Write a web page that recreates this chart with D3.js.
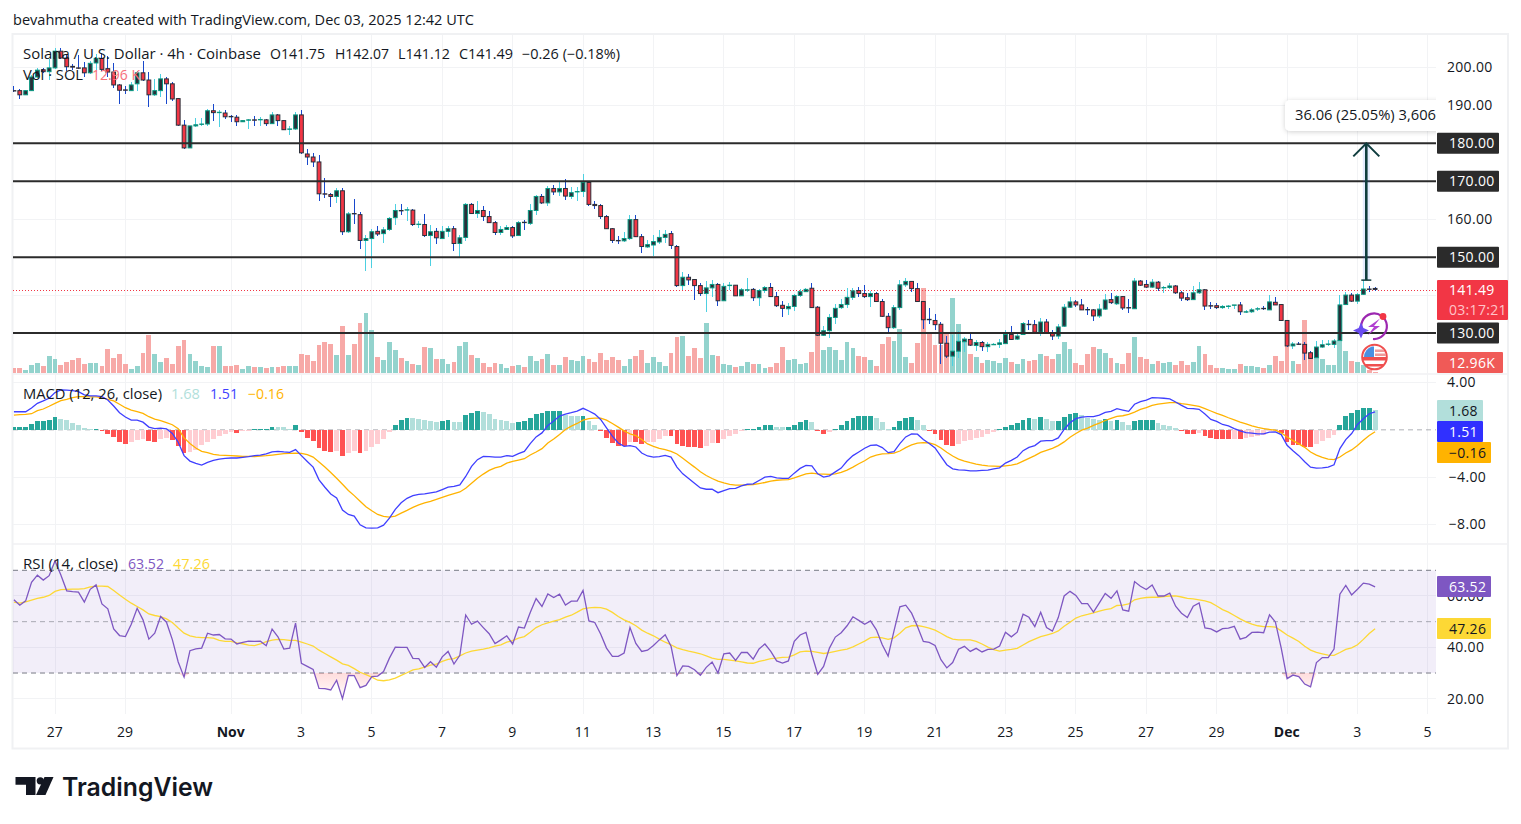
<!DOCTYPE html>
<html><head><meta charset="utf-8">
<script src="https://cdnjs.cloudflare.com/ajax/libs/d3/7.8.5/d3.min.js"></script>
<style>html,body{margin:0;padding:0;background:#fff;overflow:hidden}svg{display:block}text{font-family:"Open Sans",sans-serif}</style>
</head><body><svg id="c" width="1521" height="824"></svg>
<script>
const opens=[193.9,193.9,192.8,193.9,197.5,199.4,198.9,199.9,204.3,202.5,
200.3,199.9,199.9,198.6,201.2,202.4,199.7,198.8,195.4,194.1,
193.9,195.7,198.6,196.7,192.8,193.9,197.0,195.7,191.8,184.8,
178.8,184.6,185.0,185.1,188.6,188.1,188.0,187.1,186.9,185.7,
186.1,186.2,186.2,186.2,185.2,187.5,186.0,183.7,183.8,187.5,
177.2,176.4,175.1,166.7,166.5,166.0,167.5,156.7,161.5,161.2,
154.4,154.9,156.8,156.2,157.3,160.4,162.3,162.4,162.4,158.6,
158.6,155.7,156.8,154.9,156.8,157.5,153.6,155.2,163.9,161.5,
162.3,160.7,159.1,
156.5,157.3,157.8,155.7,159.2,158.9,162.3,166.0,164.3,168.1,
167.2,168.1,166.0,167.2,167.3,169.7,163.9,163.6,160.7,157.5,
154.4,154.3,154.9,159.9,155.4,152.7,153.2,154.0,155.2,156.2,
152.8,142.5,144.7,144.1,142.5,140.4,141.9,142.8,138.5,142.5,
142.6,139.8,141.3,141.5,139.3,141.2,142.0,139.6,137.3,136.4,
137.0,139.9,140.9,141.8,136.8,129.4,130.6,134.1,136.7,137.5,
139.4,141.2,140.4,139.6,140.4,138.3,134.4,131.4,136.7,142.7,
143.6,141.7,138.3,133.6,133.3,132.3,127.3,123.9,125.2,127.7,
128.3,126.7,127.5,126.4,126.9,127.0,
127.2,129.6,128.4,129.6,132.3,132.2,130.2,132.9,130.1,129.2,
131.8,136.8,138.2,137.4,136.2,136.1,134.5,136.3,138.8,137.7,
139.6,136.7,136.4,143.7,142.8,142.1,143.4,141.9,142.0,142.4,
140.6,139.3,138.8,140.6,141.4,137.2,137.2,136.7,137.0,137.3,
137.4,135.5,135.6,136.3,136.5,136.1,138.1,137.5,133.3,126.6,
127.1,127.0,124.8,123.5,126.3,127.0,127.0,128.0,137.5,140.0,
138.4,140.2,141.6,141.75];
const highs=[195.0,194.4,194.1,197.9,199.9,199.9,202.3,205.2,205.2,203.6,
201.0,203.4,201.4,201.8,203.6,203.8,203.1,201.3,195.7,195.0,
196.1,199.2,201.6,198.8,197.0,198.2,197.5,196.1,192.0,186.2,
184.7,186.8,186.8,189.1,190.3,188.9,188.7,187.5,187.4,186.2,
186.5,187.1,186.9,186.4,188.2,187.8,186.2,184.7,188.2,188.9,
178.6,177.5,176.8,170.9,166.8,168.3,168.1,161.9,165.2,161.9,
155.8,157.5,158.3,158.0,160.6,163.9,163.9,163.2,162.6,159.6,
161.3,158.4,157.6,158.3,158.2,158.2,155.9,164.4,164.3,164.7,
163.4,162.2,159.5,
158.2,158.4,158.2,159.5,159.8,163.9,166.3,166.6,168.7,169.0,
169.8,170.5,168.4,168.5,171.8,170.1,164.7,164.1,161.1,157.6,
155.5,156.6,161.1,161.1,156.1,154.5,155.8,157.1,157.1,156.8,
153.2,146.1,145.5,144.2,143.1,143.7,144.0,143.2,143.1,143.4,
142.6,141.8,144.5,141.8,141.5,142.4,143.1,140.8,138.4,137.8,
140.4,141.5,141.8,143.2,137.1,131.8,135.0,137.6,138.9,141.8,
141.8,142.2,142.6,141.2,140.7,138.9,135.2,137.5,144.1,144.5,
143.8,143.2,138.5,136.6,135.0,132.9,129.2,129.5,130.5,129.0,
129.9,128.2,127.8,127.7,127.3,128.4,
130.7,131.8,130.3,132.9,133.3,133.3,134.0,133.8,130.7,132.3,
137.7,139.6,138.8,139.0,136.9,136.4,137.7,140.4,140.5,139.9,
139.8,139.0,144.6,144.0,143.9,144.2,143.7,142.3,143.2,142.7,
141.0,140.5,142.4,143.4,141.5,138.1,137.9,137.3,137.3,137.5,
138.1,136.0,136.7,136.8,137.0,139.9,139.6,137.7,133.5,127.5,
127.6,127.6,125.3,127.9,128.2,128.2,128.5,140.0,140.8,140.5,
140.5,144.0,142.4,142.07];
const lows=[193.6,191.8,192.7,193.8,197.3,198.5,196.8,199.6,202.3,199.2,
199.4,199.7,197.5,198.3,198.8,199.2,197.5,194.7,190.3,193.1,
193.7,193.7,196.4,189.6,192.5,192.2,190.3,191.1,184.5,178.4,
178.7,184.3,184.7,184.5,185.8,184.2,186.4,185.6,184.7,185.5,
183.7,184.7,184.7,184.5,185.0,184.5,183.4,182.1,183.6,177.1,
174.2,173.8,164.7,165.6,163.2,164.3,155.9,156.4,158.7,152.2,
146.4,147.2,155.6,153.8,157.0,158.4,161.2,159.5,158.2,157.8,
155.3,147.7,153.5,154.8,155.2,151.6,149.7,154.3,161.3,160.3,
159.5,159.0,155.9,
155.8,157.1,155.1,155.5,157.1,158.4,161.1,163.9,163.4,166.3,
166.1,165.0,165.4,164.7,165.9,163.4,162.6,160.0,157.3,153.7,
153.4,154.0,154.6,155.2,151.1,152.4,150.3,153.4,153.8,152.1,
142.1,141.3,142.6,138.7,139.8,135.6,139.6,137.2,138.4,141.3,
139.7,139.7,140.9,138.4,137.1,140.6,139.5,136.9,134.3,134.7,
135.9,139.6,140.9,136.6,129.2,129.2,128.8,132.4,136.4,136.7,
138.7,139.6,139.2,136.8,138.2,134.3,130.0,131.1,136.1,142.2,
140.9,138.2,131.1,132.5,130.8,121.8,123.3,121.4,123.4,124.9,
126.6,125.3,125.3,125.0,126.8,126.1,
127.0,128.1,128.2,129.4,130.7,130.0,129.1,129.8,128.1,128.3,
131.6,136.7,136.8,136.0,134.8,133.2,134.0,136.1,137.7,137.5,
136.1,135.3,136.2,142.4,141.9,141.9,141.2,140.6,141.5,140.4,
138.4,138.5,138.6,140.4,136.1,136.4,136.4,136.4,136.3,136.3,
134.7,135.3,135.4,135.7,136.0,136.0,137.3,133.2,126.3,125.7,
126.8,122.8,123.2,123.3,126.0,126.5,126.1,127.9,137.3,138.2,
137.7,140.0,140.9,141.12];
const closes=[193.8,192.8,193.9,197.5,199.3,198.9,199.9,204.3,202.5,200.2,
200.1,199.8,198.6,201.1,202.4,199.5,198.8,195.4,194.0,194.0,
195.4,198.6,196.7,192.8,193.9,197.0,195.7,191.7,184.8,178.8,
184.6,184.9,185.1,188.6,188.1,188.2,187.0,187.0,185.7,186.0,
186.2,186.1,186.3,185.2,187.5,186.0,183.6,183.8,187.5,177.5,
176.4,175.1,166.7,166.6,166.0,167.5,156.7,161.4,161.4,154.4,
154.9,156.7,156.1,157.2,160.2,162.3,162.2,162.5,158.6,158.7,
155.7,156.7,155.1,156.8,157.5,153.6,155.1,163.9,161.5,162.3,
160.7,159.1,156.5,
157.3,157.8,155.6,159.1,159.1,162.3,166.0,164.3,168.1,167.2,
168.1,166.1,167.0,167.3,169.7,163.9,163.6,160.7,157.5,154.4,
154.3,154.9,159.9,155.4,152.8,153.3,154.1,155.2,156.0,153.1,
142.5,144.7,144.0,142.5,140.4,141.9,142.8,138.5,142.3,142.6,
139.8,141.4,141.4,139.3,141.2,142.0,139.6,137.2,136.5,137.0,
139.9,140.9,141.5,136.7,129.4,130.6,134.1,136.5,137.5,139.4,
141.1,140.4,139.6,140.4,138.3,134.4,131.4,136.7,142.7,143.6,
141.7,138.3,133.5,133.5,132.2,127.3,123.9,125.2,127.8,128.4,
126.8,127.5,126.4,127.0,127.0,127.4,
129.6,128.3,129.2,132.5,132.2,130.2,132.9,130.0,129.2,131.6,
136.8,138.2,137.4,136.1,136.1,134.5,136.3,138.7,138.0,139.6,
136.6,136.6,143.7,142.6,142.1,143.4,141.8,142.0,142.4,140.6,
139.2,138.8,140.6,141.4,137.1,137.1,136.7,137.0,137.1,137.4,
135.6,135.6,136.1,136.4,136.4,138.2,137.4,133.3,126.6,127.1,
127.0,124.7,123.3,126.3,126.9,127.1,127.9,137.4,140.0,138.4,
140.1,141.6,141.5,141.49];
const volumes=[44,44,26,70,87,61,148,122,70,96,113,131,78,87,87,61,209,131,165,78,35,61,174,331,165,96,131,78,235,287,165,104,61,52,235,235,61,61,70,35,61,52,52,44,52,52,61,61,61,165,157,104,244,270,252,157,409,157,252,435,522,374,139,113,270,200,131,104,78,70,226,218,122,122,78,96,235,270,157,131,87,52,87,
78,44,61,70,52,148,104,122,165,70,70,139,113,104,148,122,96,174,113,139,113,61,122,148,200,87,139,96,61,174,313,322,148,218,131,435,157,148,78,70,52,61,96,78,78,44,52,87,226,113,122,78,87,183,322,200,226,200,113,270,218,148,139,113,61,252,313,278,383,139,87,261,740,339,244,244,345,653,426,296,165,139,87,113,104,87,
128,99,78,119,104,110,165,148,122,165,270,209,87,70,165,226,209,174,131,87,78,174,313,139,122,78,104,87,96,70,104,70,96,235,165,70,44,44,35,35,78,61,61,52,44,70,148,104,235,104,78,461,139,165,122,70,70,287,191,104,96,70,26,12.96];
const macdLine=[1.53,1.53,1.53,1.84,2.24,2.44,2.67,3.15,3.38,3.35,3.32,3.23,2.95,2.87,2.87,2.81,2.52,2.01,1.45,1.08,.82,.82,.65,.23,.11,.14,.09,-.31,-1.05,-2.18,-2.64,-2.84,-2.98,-2.75,-2.58,-2.47,-2.41,-2.38,-2.38,-2.33,-2.27,-2.18,-2.13,-2.04,-1.87,-1.82,-1.87,-1.90,-1.67,-2.18,-2.67,-3.15,-4.23,-4.85,-5.42,-5.76,-6.78,-7.15,-7.29,-8.03,-8.28,-8.31,-8.28,-8.06,-7.46,-6.72,-6.16,-5.79,-5.56,-5.45,-5.42,-5.33,-5.25,-5.05,-4.85,-4.77,-4.65,-3.94,-3.09,-2.52,-2.24,-2.27,-2.30,
-2.30,-2.18,-2.24,-2.01,-1.82,-1.16,-.60,-.26,.37,.74,1.16,1.33,1.45,1.59,1.82,1.59,1.33,.88,.17,-.54,-1.11,-1.39,-1.33,-1.45,-1.96,-2.21,-2.30,-2.27,-2.16,-2.30,-3.15,-3.72,-4.11,-4.51,-4.91,-5.02,-5.02,-5.31,-5.13,-4.96,-4.94,-4.74,-4.60,-4.57,-4.28,-4.00,-3.94,-4.06,-4.11,-4.11,-3.66,-3.26,-3.01,-3.04,-3.72,-4.00,-3.89,-3.55,-3.23,-2.64,-2.18,-1.87,-1.56,-1.31,-1.28,-1.50,-1.93,-1.84,-1.16,-.60,-.34,-.37,-.82,-1.16,-1.53,-2.24,-2.95,-3.29,-3.38,-3.40,-3.46,-3.46,-3.43,-3.40,-3.29,-3.21,
-2.81,-2.58,-2.30,-1.76,-1.48,-1.33,-.96,-.91,-.91,-.68,.03,.60,.94,1.08,1.11,1.11,1.25,1.48,1.56,1.79,1.67,1.56,2.16,2.38,2.52,2.72,2.70,2.67,2.61,2.35,2.07,1.82,1.79,1.73,1.33,.88,.71,.45,.34,.11,-.09,-.23,-.28,-.34,-.34,-.20,-.17,-.40,-1.31,-1.76,-2.18,-2.70,-3.15,-3.23,-3.21,-3.15,-2.95,-1.59,-.82,-.31,.45,.94,1.36,1.51];
const signalLine=[1.25,1.28,1.31,1.36,1.62,1.76,1.99,2.24,2.47,2.58,2.72,2.81,2.81,2.78,2.78,2.72,2.58,2.44,2.16,1.87,1.67,1.53,1.39,1.11,.91,.77,.60,.43,.09,-.68,-1.16,-1.53,-1.82,-1.93,-2.07,-2.13,-2.16,-2.18,-2.21,-2.24,-2.24,-2.27,-2.21,-2.18,-2.13,-2.07,-2.01,-1.99,-1.96,-1.99,-2.10,-2.30,-2.72,-3.15,-3.60,-4.09,-4.60,-5.13,-5.56,-6.04,-6.50,-6.84,-7.15,-7.32,-7.38,-7.29,-7.04,-6.81,-6.55,-6.35,-6.18,-6.04,-5.87,-5.70,-5.53,-5.39,-5.25,-4.94,-4.51,-4.09,-3.74,-3.43,-3.21,
-3.09,-2.81,-2.67,-2.55,-2.44,-2.13,-1.87,-1.59,-1.11,-.77,-.40,.03,.31,.54,.82,.94,.99,.99,.82,.54,.23,-.09,-.34,-.48,-.82,-1.19,-1.39,-1.56,-1.67,-1.82,-2.04,-2.41,-2.78,-3.15,-3.55,-3.86,-4.11,-4.34,-4.48,-4.60,-4.68,-4.68,-4.65,-4.62,-4.54,-4.45,-4.34,-4.26,-4.23,-4.20,-4.06,-3.89,-3.72,-3.66,-3.72,-3.74,-3.77,-3.72,-3.60,-3.40,-3.15,-2.87,-2.61,-2.30,-2.13,-2.04,-2.01,-1.96,-1.79,-1.50,-1.28,-1.13,-1.08,-1.11,-1.25,-1.53,-1.90,-2.21,-2.47,-2.64,-2.78,-2.89,-2.98,-3.04,-3.06,-3.09,
-3.04,-2.98,-2.87,-2.64,-2.41,-2.18,-1.90,-1.73,-1.56,-1.33,-1.02,-.62,-.31,-.03,.14,.37,.57,.79,.96,1.13,1.19,1.31,1.50,1.73,1.87,2.07,2.18,2.24,2.30,2.30,2.21,2.16,2.07,1.99,1.79,1.59,1.39,1.22,1.02,.85,.65,.51,.34,.20,.11,.03,-.03,-.26,-.60,-.91,-1.19,-1.48,-1.87,-2.13,-2.33,-2.47,-2.52,-2.30,-1.96,-1.70,-1.33,-.88,-.48,-.16];
const macdHist=[.28,.28,.28,.48,.71,.71,.79,1.05,.91,.79,.57,.43,.14,.11,.11,-.11,-.31,-.62,-1.02,-1.16,-1.02,-.85,-.79,-.96,-1.02,-.74,-.68,-.82,-1.33,-1.93,-1.84,-1.70,-1.28,-1.02,-.74,-.51,-.31,-.20,-.23,-.11,-.06,.09,.09,.09,.28,.26,.20,.09,.37,-.20,-.65,-.91,-1.50,-1.82,-1.90,-1.76,-2.18,-1.99,-1.79,-1.93,-1.82,-1.48,-1.16,-.79,-.20,.43,.85,1.02,.96,.94,.79,.74,.65,.74,.79,.65,.62,1.25,1.42,1.56,1.53,1.33,.91,
.85,.77,.57,.65,.71,.96,1.31,1.39,1.56,1.56,1.56,1.25,1.19,1.13,1.13,.74,.37,-.14,-.65,-1.08,-1.33,-1.33,-1.02,-1.02,-1.16,-1.02,-.99,-.77,-.48,-.48,-1.16,-1.33,-1.42,-1.42,-1.50,-1.33,-1.08,-1.08,-.74,-.48,-.37,-.11,.11,.11,.28,.45,.45,.28,.20,.20,.45,.62,.79,.62,-.06,-.31,-.20,.11,.37,.71,.96,1.13,1.13,1.13,.96,.62,.11,.20,.71,.96,1.05,.79,.37,-.06,-.31,-.82,-1.25,-1.33,-1.16,-.91,-.82,-.65,-.57,-.37,-.20,.06,
.26,.37,.57,.82,.96,.88,1.05,.88,.71,.71,1.05,1.31,1.39,1.22,.99,.91,.79,.88,.71,.79,.62,.37,.74,.79,.79,.79,.54,.43,.34,.17,-.11,-.37,-.37,-.28,-.54,-.71,-.79,-.79,-.79,-.74,-.79,-.71,-.62,-.54,-.45,-.14,-.09,-.23,-.99,-1.25,-1.25,-1.42,-1.48,-1.22,-.96,-.71,-.40,.45,1.13,1.39,1.65,1.82,1.82,1.68];
const rsiLine=[58.5,56.4,58.1,65.3,68.1,66.2,67.9,73.6,68.2,62.0,61.7,61.5,57.6,62.6,64.3,56.9,55.0,47.2,44.6,44.2,49.0,55.2,50.7,43.2,45.5,52.0,49.8,43.0,34.3,28.4,38.7,39.4,39.7,45.5,44.8,45.0,43.3,43.2,41.3,41.9,42.4,42.3,42.4,40.6,47.1,44.1,39.3,39.7,49.4,33.8,32.6,31.4,24.0,23.9,23.4,27.2,20.0,29.1,29.0,24.3,25.2,28.6,28.8,30.6,35.8,40.1,40.0,40.0,35.7,35.6,32.2,34.4,32.3,36.3,38.4,33.5,36.9,52.6,49.0,50.2,47.7,45.3,41.5,
42.9,44.5,41.3,47.9,47.5,53.6,59.0,55.9,60.8,59.4,60.7,56.5,58.0,58.0,62.2,50.3,49.7,45.2,39.7,36.5,36.5,37.8,47.7,41.5,38.4,38.9,40.7,42.9,44.9,40.4,29.0,32.8,32.6,31.3,29.1,32.2,34.3,30.0,37.5,37.8,34.9,38.0,38.0,35.4,39.4,41.3,38.4,34.7,33.9,34.7,42.3,44.8,45.8,37.1,29.5,32.6,39.7,44.0,45.7,48.4,51.9,50.5,49.0,50.3,46.8,41.0,36.6,46.4,55.8,56.4,53.3,48.1,42.3,41.9,40.7,35.2,32.0,34.1,39.3,40.4,38.4,39.6,38.2,39.2,39.3,40.5,
45.9,44.1,45.9,52.9,51.7,48.1,53.7,47.7,46.3,51.6,60.0,61.8,60.2,57.0,57.0,53.7,57.3,61.0,59.1,62.0,54.6,54.1,65.6,63.8,62.5,64.3,60.0,60.0,61.1,56.0,53.3,51.6,56.0,57.3,47.6,47.2,46.0,47.3,47.5,48.2,43.2,43.9,45.8,45.9,45.7,52.7,49.9,39.7,27.8,29.2,28.6,25.7,24.6,34.1,36.0,36.0,39.3,60.7,64.1,60.4,62.6,65.0,64.6,63.52];
const rsiAverage=[57.6,57.2,57.7,58.4,59.1,59.5,60.2,61.8,62.5,62.6,62.7,62.7,62.9,63.5,63.8,63.8,63.7,62.1,60.4,58.7,57.2,55.9,54.6,53.0,52.4,52.0,51.1,49.7,47.5,45.5,44.5,44.0,43.8,43.8,43.6,42.7,42.3,42.3,41.7,41.4,40.9,40.7,41.3,42.2,42.8,43.1,43.0,42.7,42.7,42.0,41.3,40.5,38.9,37.6,36.3,35.0,33.6,33.0,31.7,30.3,29.4,28.4,27.2,27.0,27.3,28.0,29.1,30.1,31.2,31.6,32.3,33.1,33.5,34.5,35.3,35.6,36.7,37.8,38.5,38.9,39.3,39.8,40.5,
41.0,42.0,42.6,43.6,44.2,45.9,47.7,48.8,49.5,50.2,50.8,51.8,52.5,53.7,55.0,55.4,55.6,55.5,54.9,53.6,52.0,50.7,49.7,48.4,46.7,45.5,44.5,43.2,42.0,41.0,39.8,39.1,38.5,38.0,37.5,36.7,35.8,35.3,35.3,35.0,34.7,34.3,33.9,33.8,34.5,35.0,35.6,35.8,36.1,36.2,37.1,38.2,38.5,38.4,38.0,37.6,37.9,38.4,38.9,39.3,40.2,41.3,42.4,43.8,44.0,43.7,43.1,43.7,45.5,47.6,48.4,48.5,48.1,47.5,46.7,45.5,44.2,43.2,42.9,42.9,42.9,42.3,41.3,40.1,39.1,38.5,
38.9,39.2,39.6,40.9,42.2,43.2,44.2,44.8,45.4,46.4,48.2,49.8,51.4,52.3,52.8,53.4,54.1,54.7,55.1,56.3,56.4,56.9,58.5,59.1,59.4,59.5,59.5,59.8,60.0,60.0,59.6,59.1,58.9,58.5,58.1,57.4,56.1,54.7,53.7,52.4,51.1,49.9,49.0,48.4,48.1,48.1,47.9,46.4,44.8,43.6,42.3,40.4,38.9,38.0,37.5,37.0,36.9,38.0,39.2,39.8,41.0,43.1,45.4,47.26];
const firstBar=-7;
const timeTickBars=[0,12,30,42,54,66,78,90,102,114,126,138,150,162,174,186,198,210,222,234];
const timeTickLabels=["27","29","Nov","3","5","7","9","11","13","15","17","19","21","23","25","27","29","Dec","3","5"];
const priceGrid=[200,190,180,170,160,150,140,130];
const priceAxisTicks=[200,190,160];
const levels=[180,170,150,130];
const macdTicks=[4,-4,-8];
const rsiTicks=[60,40,20];
const rsiBands=[70,50,30];
const lastPrice=141.49, arrowFrom=143.94, arrowTo=180;

const svg=d3.select("#c");
const L=13,R=1436,F='"Open Sans",sans-serif';
const x=d3.scaleLinear().domain([0,222]).range([55,1357.5]);
const yP=d3.scaleLinear().domain([130,200]).range([333,67.5]);
const yV=d3.scaleLinear().domain([0,870]).range([373,273]);
const yM=d3.scaleLinear().domain([-8,4]).range([524.5,382.5]);
const yR=d3.scaleLinear().domain([20,70]).range([698.7,570.3]);
const bars=d3.range(opens.length).map(i=>({i:i+firstBar,o:opens[i],h:highs[i],l:lows[i],c:closes[i],v:volumes[i],m:macdLine[i],s:signalLine[i],hist:macdHist[i],prev:i?macdHist[i-1]:0,r:rsiLine[i],a:rsiAverage[i]}));
const up=d=>d.c>=d.o;
const defs=svg.append("defs");
defs.append("clipPath").attr("id","cm").append("rect").attr("x",L).attr("y",34).attr("width",R-L).attr("height",339);
defs.append("clipPath").attr("id","cc").append("rect").attr("x",L).attr("y",375).attr("width",R-L).attr("height",168);
defs.append("clipPath").attr("id","cr").append("rect").attr("x",L).attr("y",545).attr("width",R-L).attr("height",169);
const g1=defs.append("linearGradient").attr("id","os").attr("gradientUnits","userSpaceOnUse").attr("x1",0).attr("x2",0).attr("y1",yR(30)).attr("y2",yR(20));
g1.append("stop").attr("offset",0).attr("stop-color","#ff5252").attr("stop-opacity",.2);g1.append("stop").attr("offset",1).attr("stop-color","#ff5252").attr("stop-opacity",0);
const g2=defs.append("linearGradient").attr("id","ob").attr("gradientUnits","userSpaceOnUse").attr("x1",0).attr("x2",0).attr("y1",yR(80)).attr("y2",yR(70));
g2.append("stop").attr("offset",0).attr("stop-color","#4caf50").attr("stop-opacity",0);g2.append("stop").attr("offset",1).attr("stop-color","#4caf50").attr("stop-opacity",.2);
const f=defs.append("filter").attr("id","sh").attr("x","-10%").attr("y","-30%").attr("width","120%").attr("height","170%");
f.append("feDropShadow").attr("dx",0).attr("dy",1).attr("stdDeviation",2.5).attr("flood-color","#000").attr("flood-opacity",.18);

function text(sel,px,py,s,o={}){const t=sel.append("text").attr("x",px).attr("y",py).attr("dominant-baseline","central").attr("font-size",o.size||14).attr("fill",o.fill||"#131722").attr("font-weight",o.weight||400).text(s);
 if(o.len)t.attr("textLength",o.len).attr("lengthAdjust","spacingAndGlyphs");if(o.anchor)t.attr("text-anchor",o.anchor);if(o.family)t.style("font-family",o.family);return t}

/* frame */
svg.append("rect").attr("x",12.5).attr("y",34).attr("width",1495.5).attr("height",714.5).attr("fill","none").attr("stroke","#f0f1f3").attr("stroke-width",2);
[374,544].forEach(v=>svg.append("line").attr("x1",L).attr("x2",1507).attr("y1",v).attr("y2",v).attr("stroke","#f0f1f3").attr("stroke-width",1.5));

/* grid */
const grid=svg.append("g").attr("stroke","#f2f3f5").attr("stroke-width",1).attr("shape-rendering","crispEdges");
grid.selectAll(".v").data(timeTickBars).join("line").attr("x1",d=>x(d)).attr("x2",d=>x(d)).attr("y1",35).attr("y2",714);
grid.selectAll(".p").data(priceGrid).join("line").attr("x1",L).attr("x2",R).attr("y1",d=>yP(d)).attr("y2",d=>yP(d));
grid.selectAll(".m").data(macdTicks).join("line").attr("x1",L).attr("x2",R).attr("y1",d=>yM(d)).attr("y2",d=>yM(d));
grid.selectAll(".r").data(rsiTicks).join("line").attr("x1",L).attr("x2",R).attr("y1",d=>yR(d)).attr("y2",d=>yR(d));

/* volume */
const main=svg.append("g").attr("clip-path","url(#cm)");
main.selectAll(".vol").data(bars).join("rect").attr("x",d=>x(d.i)-2.4).attr("width",4.8).attr("y",d=>yV(d.v)).attr("height",d=>373-yV(d.v)).attr("fill",d=>up(d)?"#93d3cd":"#f7a9a7").attr("shape-rendering","crispEdges");
/* last-price line */
main.append("line").attr("x1",L).attr("x2",R).attr("y1",yP(lastPrice)+1).attr("y2",yP(lastPrice)+1).attr("stroke","#f23645").attr("stroke-width",1).attr("stroke-dasharray","1 2").attr("shape-rendering","crispEdges");
/* candles */
main.selectAll(".wick").data(bars).join("line").attr("x1",d=>x(d.i)).attr("x2",d=>x(d.i)).attr("y1",d=>yP(d.h)).attr("y2",d=>yP(d.l)).attr("stroke",d=>up(d)?"#4dd0e1":"#1848cc").attr("stroke-width",1).attr("shape-rendering","crispEdges");
main.selectAll(".body").data(bars).join("rect").attr("x",d=>x(d.i)-1.9).attr("width",3.8).attr("y",d=>yP(Math.max(d.o,d.c))).attr("height",d=>Math.max(0.3,Math.abs(yP(d.o)-yP(d.c)))).attr("fill",d=>up(d)?"#2a2e39":"#f23645").attr("stroke",d=>up(d)?"#089981":"#2a2e39").attr("stroke-width",1);
/* level lines */
main.selectAll(".lvl").data(levels).join("line").attr("x1",L).attr("x2",R).attr("y1",d=>yP(d)).attr("y2",d=>yP(d)).attr("stroke","#2b2b2b").attr("stroke-width",2);
/* arrow */
const arrowX=x(223.5);
svg.append("rect").attr("x",arrowX-3.5).attr("y",yP(arrowTo)).attr("width",7).attr("height",yP(arrowFrom)-yP(arrowTo)).attr("fill","#2962ff").attr("opacity",.13);
const ag=svg.append("g").attr("stroke","#0f3d3e").attr("fill","none");
ag.append("line").attr("x1",arrowX).attr("x2",arrowX).attr("y1",yP(arrowFrom)).attr("y2",yP(arrowTo)).attr("stroke-width",2.6);
ag.append("line").attr("x1",arrowX-5).attr("x2",arrowX+5).attr("y1",yP(arrowFrom)).attr("y2",yP(arrowFrom)).attr("stroke-width",1.5);
ag.append("path").attr("d",d3.line()([[arrowX-13,yP(arrowTo)+13],[arrowX,yP(arrowTo)],[arrowX+13,yP(arrowTo)+13]])).attr("stroke-width",2);
/* tooltip */
defs.append("clipPath").attr("id","tc").append("rect").attr("x",1270).attr("y",90).attr("width",R-1270).attr("height",50);
svg.append("g").attr("clip-path","url(#tc)").append("rect").attr("x",1285).attr("y",100).attr("width",175).attr("height",31).attr("rx",5).attr("fill","#fff").attr("filter","url(#sh)");
text(svg,1295,114.5,"36.06 (25.05%) 3,606",{len:141});

/* MACD */
const mac=svg.append("g").attr("clip-path","url(#cc)");
mac.append("line").attr("x1",L).attr("x2",R).attr("y1",yM(0)).attr("y2",yM(0)).attr("stroke","#787b86").attr("stroke-opacity",.6).attr("stroke-dasharray","5 4");
mac.selectAll(".h").data(bars).join("rect").attr("x",d=>x(d.i)-2.4).attr("width",4.8).attr("y",d=>yM(Math.max(d.hist,0))).attr("height",d=>Math.abs(yM(d.hist)-yM(0)))
 .attr("fill",d=>d.hist>=0?(d.hist>=d.prev?"#26a69a":"#b2dfdb"):(d.hist<=d.prev?"#ff5252":"#ffcdd2")).attr("shape-rendering","crispEdges");
mac.append("path").datum(bars).attr("d",d3.line().x(d=>x(d.i)).y(d=>yM(d.s))).attr("fill","none").attr("stroke","#ffb300").attr("stroke-width",1.3);
mac.append("path").datum(bars).attr("d",d3.line().x(d=>x(d.i)).y(d=>yM(d.m))).attr("fill","none").attr("stroke","#3f3fff").attr("stroke-width",1.3);

/* RSI */
const rs=svg.append("g").attr("clip-path","url(#cr)");
rs.append("rect").attr("x",L).attr("width",R-L).attr("y",yR(70)).attr("height",yR(30)-yR(70)).attr("fill","#7e57c2").attr("fill-opacity",.1);
rs.selectAll(".b").data(rsiBands).join("line").attr("x1",L).attr("x2",R).attr("y1",d=>yR(d)).attr("y2",d=>yR(d)).attr("stroke","#787b86").attr("stroke-opacity",d=>d===50?.6:1).attr("stroke-dasharray","5 4");
rs.append("path").datum(bars).attr("d",d3.area().x(d=>x(d.i)).y0(yR(30)).y1(d=>yR(Math.min(d.r,30)))).attr("fill","url(#os)");
rs.append("path").datum(bars).attr("d",d3.area().x(d=>x(d.i)).y0(yR(70)).y1(d=>yR(Math.max(d.r,70)))).attr("fill","url(#ob)");
rs.append("path").datum(bars).attr("d",d3.line().x(d=>x(d.i)).y(d=>yR(d.a))).attr("fill","none").attr("stroke","#fdd835").attr("stroke-width",1.3);
rs.append("path").datum(bars).attr("d",d3.line().x(d=>x(d.i)).y(d=>yR(d.r))).attr("fill","none").attr("stroke","#7e57c2").attr("stroke-width",1.3);

/* axes */
function styleAxis(g){g.select(".domain").remove();g.selectAll(".tick line").remove();g.selectAll("text").attr("font-size",14).attr("fill","#131722").style("font-family",F).style("letter-spacing",".3px")}
const axR=(s,t)=>d3.axisRight(s).tickValues(t).tickSize(0).tickPadding(0).tickFormat(d3.format(".2f"));
svg.append("g").attr("transform","translate(1447,0)").call(axR(yP,priceAxisTicks)).call(styleAxis);
svg.append("g").attr("transform","translate(1447,0)").call(axR(yM,[4])).call(styleAxis);
svg.append("g").call(d3.axisLeft(yM).tickValues([-4,-8]).tickSize(0).tickPadding(0).tickFormat(d3.format(".2f"))).attr("transform","translate(1486,0)").call(styleAxis);
svg.append("g").attr("transform","translate(1447,0)").call(axR(yR,rsiTicks)).call(styleAxis);
svg.append("g").attr("transform","translate(-0.8,731)").call(d3.axisBottom(x).tickValues(timeTickBars).tickSize(0).tickPadding(0).tickFormat((d,i)=>timeTickLabels[i])).call(styleAxis)
 .call(g=>{g.selectAll("text").style("letter-spacing",0).attr("dominant-baseline","central").attr("dy",0).filter((d,i)=>/[A-Z]/.test(timeTickLabels[i])).attr("font-weight",700)});

/* axis tags */
function tag(y0,h,x1,fill,lines,tc){svg.append("rect").attr("x",1437).attr("y",y0).attr("width",x1-1437).attr("height",h).attr("fill",fill).attr("rx",1);
 lines.forEach((s,k)=>text(svg,1449,y0+h*(k+.5)/lines.length-.5,s,{fill:k?"#ffc4c8":tc}).style("letter-spacing",".3px"))}
levels.forEach(v=>tag(yP(v)-10.5,21,1499,"#2b2b2b",[d3.format(".2f")(v)],"#fff"));
tag(280,40,1508,"#f23645",[d3.format(".2f")(lastPrice),"03:17:21"],"#fff");
tag(352,21,1503,"#f05a57",["12.96K"],"#fff");
tag(400,21,1483,"#b2dfdb",[d3.format(".2f")(macdHist[232])],"#131722");
tag(421,21,1483,"#3030ff",[d3.format(".2f")(macdLine[232])],"#fff");
tag(442,21,1491,"#ffb300",[d3.format(".2f")(signalLine[232])],"#131722");
tag(576,21,1491,"#7e57c2",[d3.format(".2f")(rsiLine[232])],"#fff");
tag(618,21,1491,"#fdd835",[d3.format(".2f")(rsiAverage[232])],"#131722");

/* icons */
const ic=svg.append("g");
ic.append("path").attr("d","M1362.4,331.5A12.8,12.8 0 1 1 1373,339").attr("fill","none").attr("stroke","#9c27b0").attr("stroke-width",2.2);
ic.append("path").attr("d","M1380,318.5l-12,8.5h6l-6,8l12,-9h-6z").attr("fill","#b23fd1");
ic.append("path").attr("d","M1361,322.5l2.4,5.6l5.6,2.4l-5.6,2.4l-2.4,5.6l-2.4,-5.6l-5.6,-2.4l5.6,-2.4z").attr("fill","#6a4cf0");
ic.append("circle").attr("cx",1383).attr("cy",316.5).attr("r",3.4).attr("fill","#f23645");
ic.append("circle").attr("cx",1374.5).attr("cy",357).attr("r",12.3).attr("fill","#fff").attr("stroke","#ef4f4f").attr("stroke-width",2);
ic.append("path").attr("d","M1363,357h23v3.5h-23zM1365,364h19l-2,2.6h-15z").attr("fill","#ef4f4f");
ic.append("path").attr("d","M1364,357a11,11 0 0 1 8,-10.5h2v10.5z").attr("fill","#4a90e2");
ic.append("path").attr("d","M1375,349.5h9v2.5h-9zM1375,353.5h11v2.5h-11z").attr("fill","#ef9a9a");

/* legends */
const lg=svg.append("g");
text(lg,23,53.5,"Solana / U.S. Dollar · 4h · Coinbase",{len:238});
text(lg,270,53.5,"O141.75",{len:55});text(lg,335,53.5,"H142.07",{len:54});text(lg,398,53.5,"L141.12",{len:52});text(lg,459,53.5,"C141.49",{len:54});
text(lg,522,53.5,"−0.26 (−0.18%)",{len:98});
text(lg,23,74.5,"Vol · SOL",{len:60});text(lg,92,74.5,"12.96 K",{fill:"#f7707a",len:48});
text(lg,23,393.5,"MACD (12, 26, close)",{len:139});
text(lg,171,393.5,"1.68",{fill:"#b2dfdb",len:29});text(lg,210,393.5,"1.51",{fill:"#3f3fff",len:28});text(lg,248,393.5,"−0.16",{fill:"#ffb300",len:36});
text(lg,23,563.5,"RSI (14, close)",{len:95});
text(lg,128,563.5,"63.52",{fill:"#7e57c2",len:36});text(lg,173,563.5,"47.26",{fill:"#fdd835",len:37});
text(svg,13,19,"bevahmutha created with TradingView.com, Dec 03, 2025 12:42 UTC",{len:461,fill:"#131722"});

/* logo */
const lo=svg.append("g").attr("fill","#131722");
lo.append("path").attr("d","M15.5,777h20v18h-9.5v-10.2h-10.5z");
lo.append("circle").attr("cx",40.3).attr("cy",780.8).attr("r",3.6);
lo.append("path").attr("d","M44.5,777h9l-8,18h-9.5z");
text(lo,62,786.5,"TradingView",{size:25.5,weight:600,family:"Inter",len:151});
</script></body></html>
